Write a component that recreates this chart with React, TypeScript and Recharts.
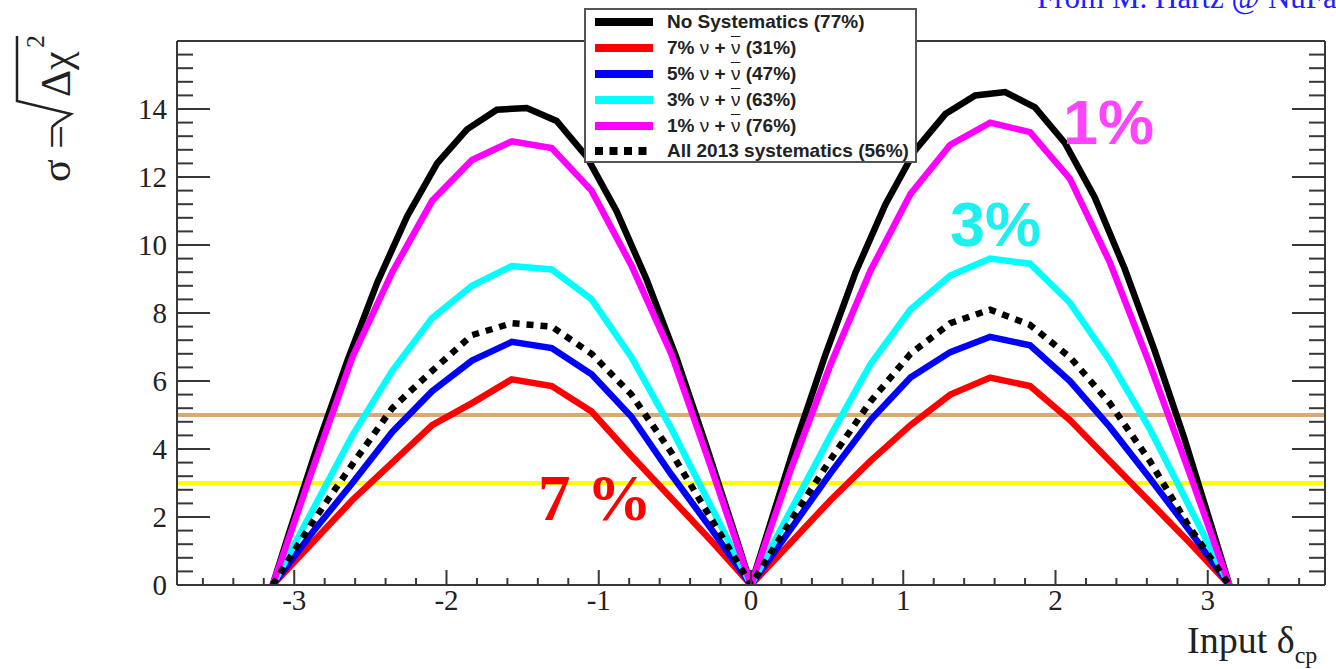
import React from 'react';
import { LineChart, Line, XAxis, YAxis, ReferenceLine, Legend } from 'recharts';

const W = 1336;
const H = 669;
// plot frame edges in pixels
const LEFT = 177;
const RIGHT = 1325;
const TOP = 41;
const BOTTOM = 585;
const AX_B = 30;
const AX_T = 10;
const AX_L = 60;
const AX_R = 10;
const MARGIN = { top: TOP - AX_T, right: W - RIGHT - AX_R, bottom: H - BOTTOM - AX_B, left: LEFT - AX_L };
const X_DOMAIN: [number, number] = [-3.77, 3.77];
const Y_DOMAIN: [number, number] = [0, 16];
const FRAME = '#383838';
const SERIF = '"Liberation Serif", "Times New Roman", serif';
const SANS = '"Liberation Sans", Arial, sans-serif';

// scan points in delta_cp (radians), pi/12 steps
const deltaCoarse = [
  -3.1416, -2.8798, -2.618, -2.3562, -2.0944, -1.8326, -1.5708, -1.309, -1.0472, -0.7854, -0.5236, -0.2618, 0,
  0.2618, 0.5236, 0.7854, 1.0472, 1.309, 1.5708, 1.8326, 2.0944, 2.3562, 2.618, 2.8798, 3.1416,
];
// finer scan used for the no-systematics curve
const deltaFine = [
  -3.1416, -3.0434, -2.8471, -2.6507, -2.4544, -2.258, -2.0617, -1.8653, -1.669, -1.4726, -1.2763, -1.0799,
  -0.8836, -0.6872, -0.4909, -0.2945, -0.0982, 0, 0.0982, 0.2945, 0.4909, 0.6872, 0.8836, 1.0799, 1.2763,
  1.4726, 1.669, 1.8653, 2.0617, 2.258, 2.4544, 2.6507, 2.8471, 3.0434, 3.1416,
];

const noSyst = [
  0, 1.4, 4.1, 6.6, 8.9, 10.85, 12.4, 13.4, 13.98, 14.03, 13.65, 12.6, 11.0, 9.0, 6.7, 4.1, 1.4, 0,
  1.4, 4.2, 6.8, 9.2, 11.2, 12.8, 13.85, 14.4, 14.5, 14.05, 13.0, 11.4, 9.3, 6.9, 4.3, 1.45, 0,
];
const syst7 = [0, 1.25, 2.5, 3.6, 4.7, 5.35, 6.05, 5.85, 5.1, 3.8, 2.55, 1.3, 0, 1.25, 2.5, 3.65, 4.7, 5.6, 6.1, 5.85, 4.85, 3.65, 2.45, 1.25, 0];
const syst5 = [0, 1.55, 3.0, 4.5, 5.7, 6.6, 7.15, 6.97, 6.2, 4.95, 3.25, 1.65, 0, 1.65, 3.3, 4.85, 6.1, 6.85, 7.3, 7.05, 6.0, 4.65, 3.15, 1.6, 0];
const syst3 = [0, 2.2, 4.4, 6.3, 7.85, 8.8, 9.38, 9.28, 8.4, 6.7, 4.6, 2.3, 0, 2.2, 4.4, 6.5, 8.1, 9.1, 9.6, 9.45, 8.3, 6.6, 4.6, 2.3, 0];
const syst1 = [0, 3.4, 6.7, 9.2, 11.3, 12.5, 13.05, 12.85, 11.6, 9.4, 6.8, 3.45, 0, 3.4, 6.5, 9.25, 11.5, 12.95, 13.6, 13.32, 11.95, 9.5, 6.5, 3.3, 0];
const syst2013 = [0, 1.85, 3.55, 5.2, 6.3, 7.35, 7.7, 7.6, 6.8, 5.6, 3.9, 1.95, 0, 1.9, 3.7, 5.4, 6.8, 7.7, 8.1, 7.65, 6.7, 5.35, 3.66, 1.7, 0];

// 5 sigma and 3 sigma guide lines
const thresholds = [5, 3];
const thresholdColors = ['#d8aa78', '#ffff00'];

const xMajor = [-3, -2, -1, 0, 1, 2, 3];
const xMinor = [
  -3.6, -3.4, -3.2, -2.8, -2.6, -2.4, -2.2, -1.8, -1.6, -1.4, -1.2, -0.8, -0.6, -0.4, -0.2,
  0.2, 0.4, 0.6, 0.8, 1.2, 1.4, 1.6, 1.8, 2.2, 2.4, 2.6, 2.8, 3.2, 3.4, 3.6,
];
const yMajor = [0, 2, 4, 6, 8, 10, 12, 14];
const yMinor = [
  0.4, 0.8, 1.2, 1.6, 2.4, 2.8, 3.2, 3.6, 4.4, 4.8, 5.2, 5.6, 6.4, 6.8, 7.2, 7.6, 8.4, 8.8, 9.2, 9.6,
  10.4, 10.8, 11.2, 11.6, 12.4, 12.8, 13.2, 13.6, 14.4, 14.8, 15.2, 15.6,
];
const xTicks = [...xMajor, ...xMinor];
const yTicks = [...yMajor, ...yMinor];

const series = [
  { key: 'none', pct: '', name: 'No Systematics (77%)', color: '#000000', xs: deltaFine, ys: noSyst },
  { key: 's7', pct: '7%', name: '(31%)', color: '#ff0000', xs: deltaCoarse, ys: syst7 },
  { key: 's5', pct: '5%', name: '(47%)', color: '#0000ff', xs: deltaCoarse, ys: syst5 },
  { key: 's3', pct: '3%', name: '(63%)', color: '#00ffff', xs: deltaCoarse, ys: syst3 },
  { key: 's1', pct: '1%', name: '(76%)', color: '#ff00ff', xs: deltaCoarse, ys: syst1 },
  { key: 'all', pct: '', name: 'All 2013 systematics (56%)', color: '#000000', xs: deltaCoarse, ys: syst2013, dash: '7 7', legendDash: '8 6.5' },
];

const toPoints = (xs: number[], ys: number[]) => xs.map((x, i) => ({ x, y: ys[i] }));

// ROOT style ticks: drawn inward from the frame, long for majors
function makeTick(side: 'bottom' | 'top' | 'left' | 'right', labels: boolean) {
  return (props: any) => {
    const v = props.payload?.value;
    const vertical = side === 'bottom' || side === 'top';
    const major = vertical ? xMajor.includes(v) : yMajor.includes(v);
    const c = vertical ? props.x : props.y;
    let line;
    if (side === 'bottom') line = { x1: c, x2: c, y1: BOTTOM, y2: BOTTOM - (major ? 15 : 7) };
    else if (side === 'top') line = { x1: c, x2: c, y1: TOP, y2: TOP + (major ? 15 : 7) };
    else if (side === 'left') line = { x1: LEFT, x2: LEFT + (major ? 33 : 16), y1: c, y2: c };
    else line = { x1: RIGHT, x2: RIGHT - (major ? 33 : 16), y1: c, y2: c };
    return (
      <g>
        <line {...line} stroke={FRAME} strokeWidth={2} />
        {labels && major && side === 'bottom' && (
          <text x={c} y={BOTTOM + 25} textAnchor="middle" fill="#222" fontSize={29} fontFamily={SERIF}>{v}</text>
        )}
        {labels && major && side === 'left' && (
          <text x={LEFT - 10} y={c + 10} textAnchor="end" fill="#222" fontSize={29} fontFamily={SERIF}>{v}</text>
        )}
      </g>
    );
  };
}

function LegendBox() {
  return (
    <div
      style={{
        position: 'relative',
        width: 333,
        height: 155,
        boxSizing: 'border-box',
        border: '2px solid #555',
        background: '#fff',
        overflow: 'hidden',
      }}
    >
      {series.map((s, i) => {
        const cy = 12.4 + i * 25.8;
        return (
          <div
            key={s.key}
            style={{ position: 'absolute', left: 0, top: cy - 12, height: 24, width: 420, display: 'flex', alignItems: 'center' }}
          >
            <svg width={81} height={24} style={{ flex: 'none' }}>
              <line x1={9} x2={67} y1={12} y2={12} stroke={s.color} strokeWidth={8} strokeDasharray={s.legendDash} />
            </svg>
            <span style={{ font: `bold 19px ${SANS}`, color: '#222', whiteSpace: 'nowrap' }}>
              {s.pct ? (
                <>
                  {s.pct} <span style={{ fontWeight: 'normal' }}>ν</span> + <span style={{ fontWeight: 'normal', textDecoration: 'overline' }}>ν</span> {s.name}
                </>
              ) : (
                s.name
              )}
            </span>
          </div>
        );
      })}
    </div>
  );
}

export default function App() {
  const axisLine = { stroke: FRAME, strokeWidth: 2 };

  return (
    <div style={{ position: 'absolute', left: 0, top: 0, width: W, height: H, background: '#fff', overflow: 'hidden' }}>
      <LineChart width={W} height={H} margin={MARGIN}>
        <XAxis xAxisId="b" type="number" dataKey="x" domain={X_DOMAIN} allowDataOverflow ticks={xTicks} interval={0}
          height={AX_B} axisLine={axisLine} tickLine={false} tick={makeTick('bottom', true)} />
        <XAxis xAxisId="t" orientation="top" type="number" domain={X_DOMAIN} allowDataOverflow ticks={xTicks} interval={0}
          height={AX_T} axisLine={axisLine} tickLine={false} tick={makeTick('top', false)} />
        <YAxis yAxisId="l" type="number" domain={Y_DOMAIN} allowDataOverflow ticks={yTicks} interval={0}
          width={AX_L} axisLine={axisLine} tickLine={false} tick={makeTick('left', true)} />
        <YAxis yAxisId="r" orientation="right" type="number" domain={Y_DOMAIN} allowDataOverflow ticks={yTicks} interval={0}
          width={AX_R} axisLine={axisLine} tickLine={false} tick={makeTick('right', false)} />

        {thresholds.map((v, i) => (
          <ReferenceLine key={v} xAxisId="b" yAxisId="l" y={v} stroke={thresholdColors[i]} strokeWidth={4} />
        ))}

        {series.map((s) => (
          <Line
            key={s.key}
            xAxisId="b"
            yAxisId="l"
            data={toPoints(s.xs, s.ys)}
            dataKey="y"
            name={s.name}
            type="linear"
            stroke={s.color}
            strokeWidth={6.5}
            strokeDasharray={s.dash}
            dot={false}
            activeDot={false}
            isAnimationActive={false}
          />
        ))}

        <Legend
          content={() => <LegendBox />}
          layout="vertical"
          align="center"
          verticalAlign="middle"
          wrapperStyle={{ left: 584, top: 8, width: 333, height: 155 }}
        />
      </LineChart>

      <svg width={W} height={H} style={{ position: 'absolute', left: 0, top: 0, pointerEvents: 'none' }}>
        <text x={1037} y={7.5} fill="#2020ff" fontFamily={SERIF} fontSize={31}>From M. Hartz @ NuFact</text>

        {/* y title: sigma = sqrt(delta chi^2) */}
        <text transform="translate(70,182) rotate(-90)" fontFamily={SERIF} fontSize={42} fill="#222">σ =</text>
        <path d="M 52 127 L 58 122 L 71 114 L 17 101 L 17 36" fill="none" stroke="#222" strokeWidth={2.5} />
        <text transform="translate(70,97) rotate(-90)" fontFamily={SERIF} fontSize={42} fill="#222">Δχ</text>
        <text transform="translate(44,48) rotate(-90)" fontFamily={SERIF} fontSize={26} fill="#222">2</text>

        {/* x title */}
        <text x={1187} y={653} fontFamily={SERIF} fontSize={38} fill="#222">
          Input δ<tspan fontSize={24} dy={10}>cp</tspan>
        </text>

        <text x={1063} y={144} fill="#ff45ff" fontFamily={SANS} fontWeight="bold" fontSize={63}>1%</text>
        <text x={950} y={246} fill="#1ef0f0" fontFamily={SANS} fontWeight="bold" fontSize={63}>3%</text>
        <text x={538} y={520} fill="#ff0000" fontFamily={SERIF} fontWeight="bold" fontSize={65}>7 %</text>
      </svg>
    </div>
  );
}
